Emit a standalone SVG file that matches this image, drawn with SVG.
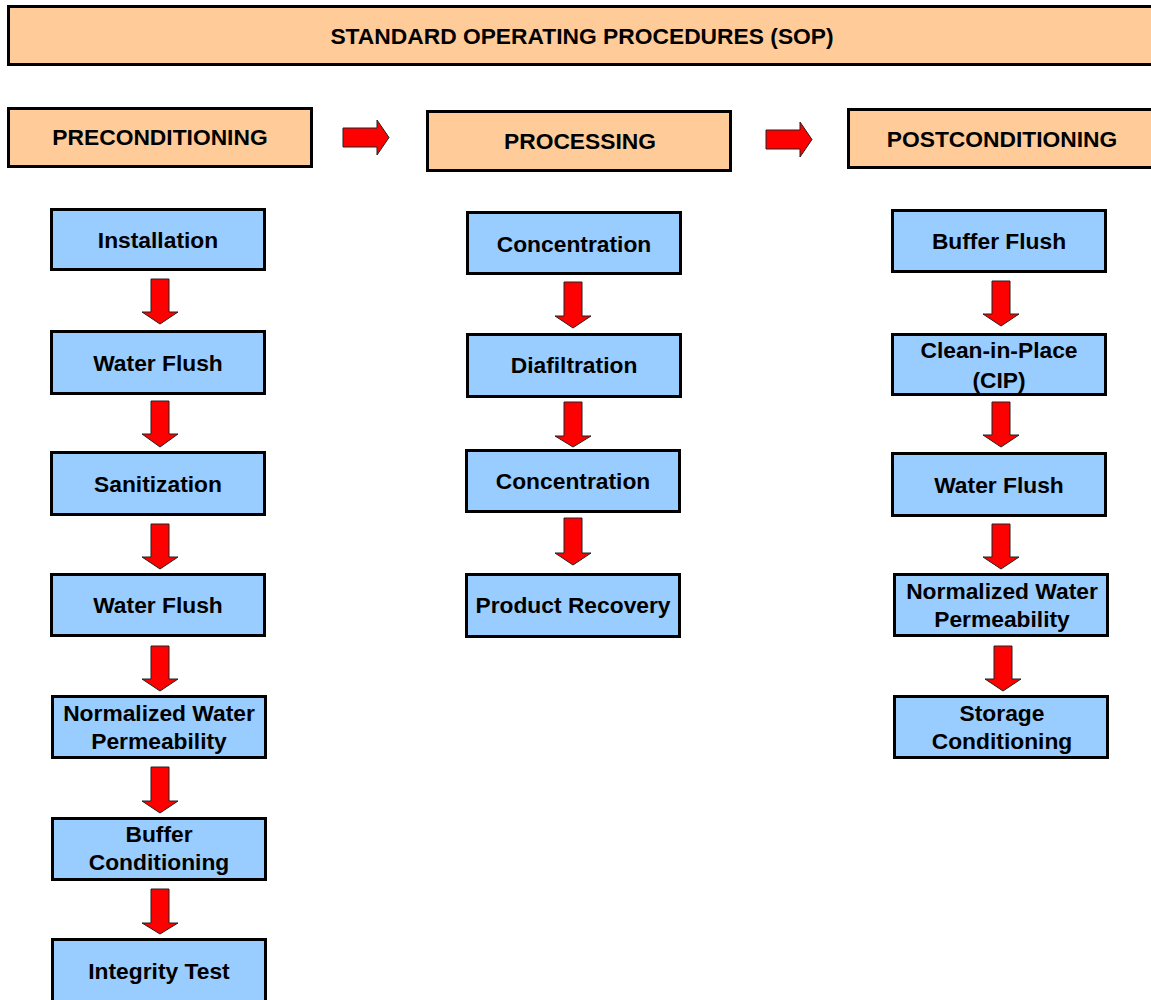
<svg xmlns="http://www.w3.org/2000/svg" width="1151" height="1000" viewBox="0 0 1151 1000">
<style>
.hdr{fill:#FFCC99;stroke:#000;stroke-width:3}
.stp{fill:#99CCFF;stroke:#000;stroke-width:3}
.arr{fill:#FF0000;stroke:#222;stroke-width:1;stroke-linejoin:miter}
text{font-family:"Liberation Sans",Arial,sans-serif;font-weight:bold;font-size:22.8px;fill:#000;text-anchor:middle}
</style>
<rect width="1151" height="1000" fill="#fff"/>
<g id="title"><rect class="hdr" x="8.5" y="6.5" width="1170" height="58"/><text x="582" y="44">STANDARD OPERATING PROCEDURES (SOP)</text></g>
<g id="preconditioning"><rect class="hdr" x="8.5" y="108.5" width="303" height="58"/><text x="160" y="145">PRECONDITIONING</text></g>
<g id="processing"><rect class="hdr" x="427.5" y="111.5" width="303" height="59"/><text x="580" y="149">PROCESSING</text></g>
<g id="postconditioning"><rect class="hdr" x="848.5" y="109.5" width="320" height="58"/><text x="1002" y="147">POSTCONDITIONING</text></g>

<g id="installation"><rect class="stp" x="51.5" y="209.5" width="213" height="60"/><text x="158" y="248">Installation</text></g>
<g id="water-flush-1"><rect class="stp" x="51.5" y="331.5" width="213" height="62"/><text x="158" y="371">Water Flush</text></g>
<g id="sanitization"><rect class="stp" x="51.5" y="452.5" width="213" height="62"/><text x="158" y="492">Sanitization</text></g>
<g id="water-flush-2"><rect class="stp" x="51.5" y="574.5" width="213" height="61"/><text x="158" y="613">Water Flush</text></g>
<g id="nwp-1"><rect class="stp" x="52.5" y="696.5" width="213" height="61"/><text x="159" y="721">Normalized Water</text><text x="159" y="749">Permeability</text></g>
<g id="buffer-conditioning"><rect class="stp" x="52.5" y="818.5" width="213" height="61"/><text x="159" y="842">Buffer</text><text x="159" y="870">Conditioning</text></g>
<g id="integrity-test"><rect class="stp" x="52.5" y="939.5" width="213" height="70"/><text x="159" y="979">Integrity Test</text></g>

<g id="concentration-1"><rect class="stp" x="467.5" y="212.5" width="213" height="61"/><text x="574" y="252">Concentration</text></g>
<g id="diafiltration"><rect class="stp" x="467.5" y="334.5" width="213" height="62"/><text x="574" y="373">Diafiltration</text></g>
<g id="concentration-2"><rect class="stp" x="466.5" y="450.5" width="213" height="61"/><text x="573" y="489">Concentration</text></g>
<g id="product-recovery"><rect class="stp" x="466.5" y="574.5" width="213" height="62"/><text x="573" y="613">Product Recovery</text></g>

<g id="buffer-flush"><rect class="stp" x="892.5" y="210.5" width="213" height="61"/><text x="999" y="249">Buffer Flush</text></g>
<g id="cip"><rect class="stp" x="892.5" y="334.5" width="213" height="60"/><text x="999" y="358">Clean-in-Place</text><text x="999" y="388">(CIP)</text></g>
<g id="water-flush-3"><rect class="stp" x="892.5" y="453.5" width="213" height="62"/><text x="999" y="493">Water Flush</text></g>
<g id="nwp-2"><rect class="stp" x="894.5" y="574.5" width="213" height="61"/><text x="1002" y="599">Normalized Water</text><text x="1002" y="627">Permeability</text></g>
<g id="storage-conditioning"><rect class="stp" x="894.5" y="696.5" width="213" height="61"/><text x="1002" y="721">Storage</text><text x="1002" y="749">Conditioning</text></g>

<g id="connectors">
<polygon class="arr" points="343,128 377,128 377,120 389,137.5 377,155 377,147 343,147"/>
<polygon class="arr" points="766,130 800,130 800,122 812,139.5 800,157 800,149 766,149"/>

<polygon class="arr" points="151,279 169,279 169,312 178,312 160,324 142,312 151,312"/>
<polygon class="arr" points="151,401 169,401 169,434 178,434 160,447 142,434 151,434"/>
<polygon class="arr" points="151,524 169,524 169,557 178,557 160,569 142,557 151,557"/>
<polygon class="arr" points="151,646 169,646 169,679 178,679 160,691 142,679 151,679"/>
<polygon class="arr" points="151,767 169,767 169,801 178,801 160,813 142,801 151,801"/>
<polygon class="arr" points="151,889 169,889 169,923 178,923 160,934 142,923 151,923"/>

<polygon class="arr" points="564,282 582,282 582,316 591,316 573,328 555,316 564,316"/>
<polygon class="arr" points="564,402 582,402 582,436 591,436 573,447 555,436 564,436"/>
<polygon class="arr" points="564,518 582,518 582,553 591,553 573,565 555,553 564,553"/>

<polygon class="arr" points="992,281 1010,281 1010,314 1019,314 1001,326 983,314 992,314"/>
<polygon class="arr" points="992,402 1010,402 1010,435 1019,435 1001,447 983,435 992,435"/>
<polygon class="arr" points="992,524 1010,524 1010,557 1019,557 1001,569 983,557 992,557"/>
<polygon class="arr" points="994,646 1012,646 1012,679 1021,679 1003,691 985,679 994,679"/>
</g>
</svg>
